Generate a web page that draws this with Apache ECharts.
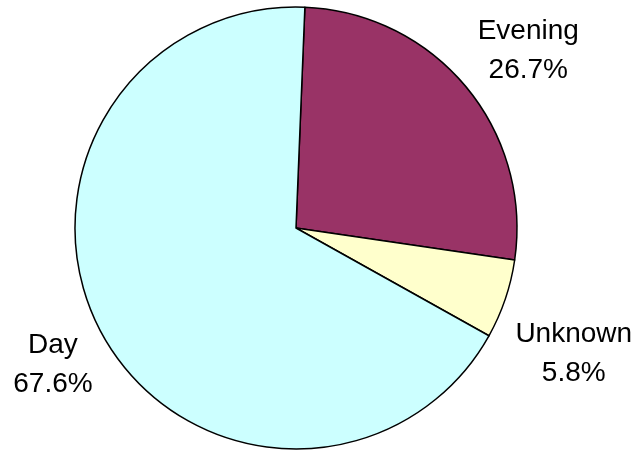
<!DOCTYPE html>
<html>
<head>
<meta charset="utf-8">
<script src="https://cdn.jsdelivr.net/npm/echarts@6/dist/echarts.min.js"></script>
<style>html,body{margin:0;padding:0;background:#fff;}#c{width:638px;height:450px;}</style>
</head>
<body>
<div id="c"></div>
<script>
var categories = ['Evening', 'Unknown', 'Day'];
var values = [26.7, 5.8, 67.6];
var colors = ['#993366', '#FFFFCC', '#CCFFFF'];
// label placement: radial distance from centre and angle (deg, clockwise from top)
var labelDist = [292, 305, 279];
var labelAngle = [52.7, 114.4, 240.6];

var CX = 296, CY = 228, R = 221;
var chart = echarts.init(document.getElementById('c'), null, {renderer: 'canvas'});
chart.setOption({
  animation: false,
  backgroundColor: '#ffffff',
  series: [{
    type: 'pie',
    center: [CX, CY],
    radius: R,
    startAngle: 87.7,
    clockwise: true,
    avoidLabelOverlap: false,
    data: categories.map(function (c, i) {
      return {name: c, value: values[i], itemStyle: {color: colors[i]}};
    }),
    itemStyle: {borderColor: '#000', borderWidth: 1.5},
    label: {
      show: true,
      position: 'outside',
      formatter: function (p) { return p.name + '\n' + p.value.toFixed(1) + '%'; },
      fontFamily: 'Liberation Sans, Arial, sans-serif',
      fontSize: 28,
      lineHeight: 39,
      color: '#000',
      align: 'center'
    },
    labelLine: {show: false},
    labelLayout: function (p) {
      var i = p.dataIndex;
      var a = labelAngle[i] * Math.PI / 180;
      return {
        x: CX + labelDist[i] * Math.sin(a),
        y: CY - labelDist[i] * Math.cos(a),
        align: 'center',
        verticalAlign: 'middle'
      };
    },
    emphasis: {disabled: true}
  }]
});
</script>
</body>
</html>
